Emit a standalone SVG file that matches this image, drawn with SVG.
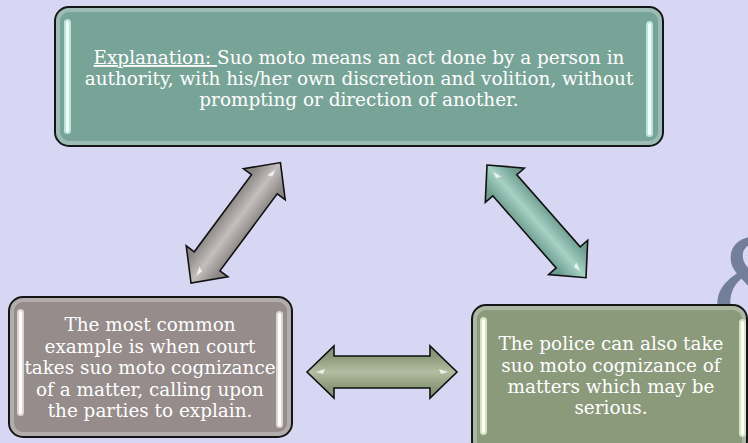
<svg xmlns="http://www.w3.org/2000/svg" width="748" height="443" viewBox="0 0 748 443">
<style>
.bg{fill:#d7d7f4}
.box{stroke:#151515;stroke-width:2}
.glow{fill:none;stroke:#ffffff;stroke-opacity:0.28;stroke-width:4}
.bar{stroke-width:0}
.t{font-family:"DejaVu Serif","Liberation Serif",serif;font-size:18.4px;fill:#ffffff;text-anchor:middle}
.arrow{stroke:#111;stroke-width:1.6;stroke-linejoin:miter}
.hl{fill:#ffffff;fill-opacity:0.75}
</style>
<defs>
<path id="arr" d="M0,0 L27,-26 L27,-16 L123,-16 L123,-26 L150,0 L123,26 L123,16 L27,16 L27,26 Z"/>
<linearGradient id="gGray" x1="0" y1="0" x2="0" y2="1">
<stop offset="0.18" stop-color="#8c8685"/><stop offset="0.5" stop-color="#c4bfbe"/><stop offset="0.82" stop-color="#8c8685"/>
</linearGradient>
<linearGradient id="gTeal" x1="0" y1="0" x2="0" y2="1">
<stop offset="0.18" stop-color="#6f9e90"/><stop offset="0.5" stop-color="#a6d2c4"/><stop offset="0.82" stop-color="#6f9e90"/>
</linearGradient>
<linearGradient id="gOlive" x1="0" y1="0" x2="0" y2="1">
<stop offset="0.18" stop-color="#899677"/><stop offset="0.5" stop-color="#b2bda1"/><stop offset="0.82" stop-color="#899677"/>
</linearGradient>
</defs>
<rect class="bg" x="0" y="0" width="748" height="443"/>
<text x="708" y="332" font-family="DejaVu Serif, serif" font-size="130" fill="#737e9a">&amp;</text>

<g id="connectors">
<g transform="translate(191,283) rotate(-53.4)">
<use href="#arr" class="arrow" fill="url(#gGray)"/>
<polygon class="hl" points="9,0 18,-3 16,2"/><polygon class="hl" points="141,0 132,-3 134,2"/>
</g>
<g transform="translate(487,165) rotate(48.7)">
<use href="#arr" class="arrow" fill="url(#gTeal)"/>
<polygon class="hl" points="9,0 18,-3 16,2"/><polygon class="hl" points="141,0 132,-3 134,2"/>
</g>
<g transform="translate(307,372)">
<use href="#arr" class="arrow" fill="url(#gOlive)"/>
<polygon class="hl" points="9,0 18,-3 16,2"/><polygon class="hl" points="141,0 132,-3 134,2"/>
</g>
</g>

<g id="explanation">
<rect class="box" x="55" y="7" width="608" height="139" rx="14" fill="#78a497"/>
<rect class="glow" x="58" y="10" width="602" height="133" rx="11"/>
<rect x="64" y="19" width="7" height="115" rx="3.5" fill="#b9e6d8"/>
<rect x="66" y="21" width="3" height="111" rx="1.5" fill="#f4fffb"/>
<rect x="646" y="21" width="7" height="116" rx="3.5" fill="#b9e6d8"/>
<rect x="648" y="23" width="3" height="112" rx="1.5" fill="#f4fffb"/>
<text class="t"><tspan x="359" y="64"><tspan text-decoration="underline">Explanation: </tspan>Suo moto means an act done by a person in</tspan><tspan x="359" y="85">authority, with his/her own discretion and volition, without</tspan><tspan x="359" y="106">prompting or direction of another.</tspan></text>
</g>

<g id="court">
<rect class="box" x="9" y="297" width="283" height="140" rx="14" fill="#968c8c"/>
<rect class="glow" x="12" y="300" width="277" height="134" rx="11"/>
<rect x="17" y="309" width="7" height="107" rx="3.5" fill="#ded4d4"/>
<rect x="19" y="311" width="3" height="103" rx="1.5" fill="#ffffff"/>
<rect x="276" y="311" width="7" height="117" rx="3.5" fill="#ded4d4"/>
<rect x="278" y="313" width="3" height="113" rx="1.5" fill="#ffffff"/>
<text class="t"><tspan x="150" y="331">The most common</tspan><tspan x="150" y="352.5">example is when court</tspan><tspan x="150" y="374">takes suo moto cognizance</tspan><tspan x="150" y="395.5">of a matter, calling upon</tspan><tspan x="150" y="417">the parties to explain.</tspan></text>
</g>

<g id="police">
<rect class="box" x="472" y="305" width="275" height="150" rx="14" fill="#8c9a7c"/>
<rect class="glow" x="475" y="308" width="269" height="144" rx="11"/>
<rect x="480" y="317" width="7" height="118" rx="3.5" fill="#d6e2c6"/>
<rect x="482" y="319" width="3" height="114" rx="1.5" fill="#fbfff4"/>
<rect x="739" y="319" width="7" height="118" rx="3.5" fill="#d6e2c6"/>
<rect x="741" y="321" width="3" height="114" rx="1.5" fill="#fbfff4"/>
<text class="t"><tspan x="611" y="350">The police can also take</tspan><tspan x="611" y="372">suo moto cognizance of</tspan><tspan x="611" y="393">matters which may be</tspan><tspan x="611" y="414">serious.</tspan></text>
</g>
</svg>
